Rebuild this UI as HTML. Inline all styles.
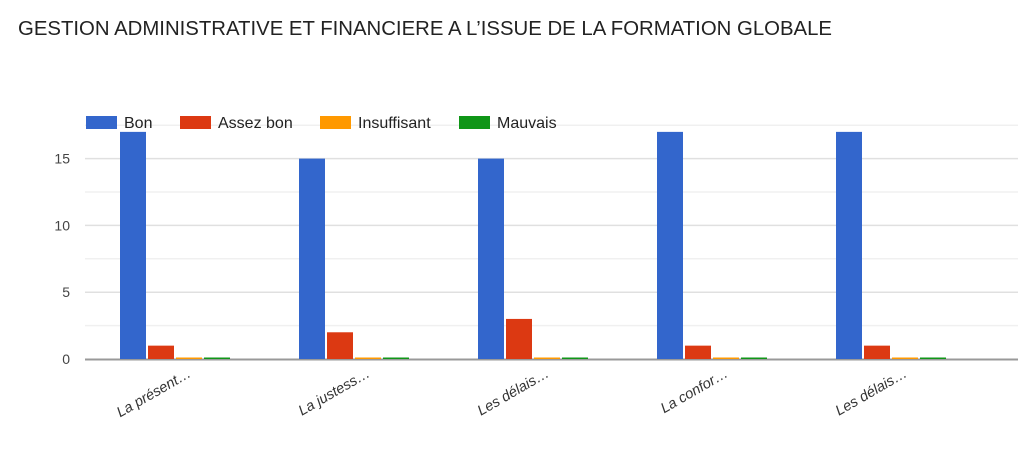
<!DOCTYPE html>
<html><head><meta charset="utf-8"><style>
body{margin:0;background:#fff;width:1018px;height:454px;overflow:hidden;font-family:"Liberation Sans",Arial,sans-serif}
</style></head><body>
<svg width="1018" height="454" xmlns="http://www.w3.org/2000/svg" font-family="Liberation Sans, Arial, sans-serif">
<defs><clipPath id="plot"><rect x="0" y="0" width="1013" height="454"/></clipPath></defs>
<text x="18" y="35" font-size="20" fill="#222" textLength="814" lengthAdjust="spacingAndGlyphs">GESTION ADMINISTRATIVE ET FINANCIERE A L’ISSUE DE LA FORMATION GLOBALE</text>
<g id="grid"></g>
<g id="bars" clip-path="url(#plot)"></g>
<g id="xlabels"></g>
<g id="legend"></g>
</svg>
<script>
const categories = ["La présent…","La justess…","Les délais…","La confor…","Les délais…","Les…"];
const bon = [17,15,15,17,17,17];
const assezBon = [1,2,3,1,1,0];
const insuffisant = [0,0,0,0,0,0];
const mauvais = [0,0,0,0,0,0];
const yTicks = [0,5,10,15];
const seriesNames = ["Bon","Assez bon","Insuffisant","Mauvais"];
const colors = ["#3366cc","#dc3912","#ff9900","#109618"];

const NS="http://www.w3.org/2000/svg";
const base=359, unit=13.36, x0=120, step=179, bw=26, gap=2;
const y = v => base - v*unit;
const xg = i => x0 + i*step;
function mk(tag,attrs,parent){const e=document.createElementNS(NS,tag);for(const k in attrs)e.setAttribute(k,attrs[k]);parent.appendChild(e);return e;}
const grid=document.getElementById('grid');
for(let v=2.5; v<=17.5; v+=2.5){
  const l=mk('line',{x1:85,x2:1018,y1:y(v),y2:y(v),stroke:v%5===0?'#e0e0e0':'#f0f0f0','stroke-width':1.5},grid);
  
  
}
yTicks.forEach(t=>{
  const tx=mk('text',{x:70,y:y(t)+5,'text-anchor':'end','font-size':14,fill:'#444'},grid);
  tx.textContent=t;
  
  
});
const barsG=document.getElementById('bars');
const series=[bon,assezBon,insuffisant,mauvais];
categories.forEach((c,i)=>{
  series.forEach((s,j)=>{
    const h=Math.max(s[i]*unit,1.5);
    const r=mk('rect',{x:xg(i)+j*(bw+gap),y:base-h,width:bw,height:h,fill:colors[j]},barsG);
    
    
  });
  const lx=xg(i)+72, ly=376;
  const t=mk('text',{x:lx,y:ly,'text-anchor':'end','font-size':14.5,'font-style':'italic',fill:'#333',transform:`rotate(-30 ${lx} ${ly})`},document.getElementById('xlabels'));
  t.textContent=c;
  
  
});
const ax=mk('line',{x1:85,x2:1018,y1:base+0.5,y2:base+0.5,stroke:'#999','stroke-width':2},document.getElementById('grid'));


const lg=document.getElementById('legend');
const lx=[86,180,320,459];
seriesNames.forEach((n,j)=>{
  const r=mk('rect',{x:lx[j],y:116,width:31,height:13,fill:colors[j]},lg);
  
  
  const t=mk('text',{x:lx[j]+38,y:128,'font-size':16,fill:'#222'},lg);
  t.textContent=n;
  
  
});
</script>
</body></html>
